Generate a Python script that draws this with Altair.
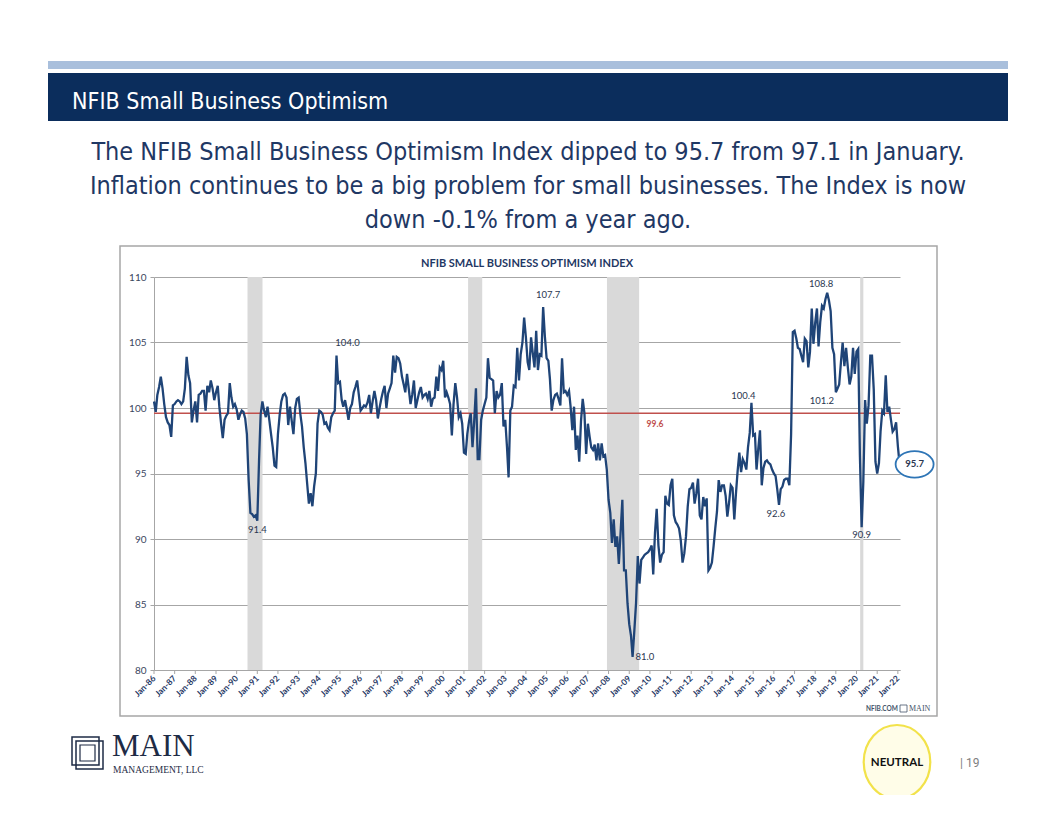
import altair as alt
import pandas as pd

# ---------------- data (monthly Jan-1986 .. Feb-2022) ----------------
v1986 = [100.5, 99.7, 101.0, 101.6, 102.4, 101.5, 100.3, 99.3, 98.9, 98.7, 97.8, 100.2]
v1987 = [100.3, 100.5, 100.6, 100.5, 100.3, 100.5, 101.5, 103.9, 102.5, 101.9, 98.9, 99.8]
v1988 = [100.5, 98.9, 101.0, 101.1, 101.3, 101.3, 99.8, 101.7, 101.2, 102.1, 101.5, 100.6]
v1989 = [101.2, 101.7, 100.1, 98.8, 97.7, 99.1, 99.4, 99.6, 101.9, 100.8, 100.1, 100.3]
v1990 = [99.9, 99.1, 99.5, 99.8, 99.7, 99.2, 98.0, 94.5, 92.0, 91.9, 91.7, 91.8]
v1991 = [91.4, 96.0, 99.5, 100.5, 99.8, 99.3, 100.1, 99.1, 98.0, 97.0, 95.6, 95.5]
v1992 = [98.0, 99.5, 100.5, 101.0, 101.1, 100.8, 98.7, 100.1, 99.0, 98.0, 100.0, 100.7]
v1993 = [100.8, 99.5, 98.6, 97.0, 95.8, 94.2, 92.7, 93.5, 92.5, 94.0, 95.0, 98.8]
v1994 = [99.8, 99.7, 99.5, 98.8, 98.9, 98.5, 98.3, 99.3, 99.6, 99.8, 104.0, 101.9]
v1995 = [102.0, 100.6, 100.1, 100.6, 99.9, 99.1, 100.0, 100.3, 101.2, 101.6, 102.1, 101.0]
v1996 = [99.8, 100.0, 100.2, 100.1, 100.4, 101.0, 99.6, 100.5, 101.3, 100.6, 99.2, 100.0]
v1997 = [100.7, 101.3, 101.7, 100.0, 101.1, 101.5, 101.9, 104.0, 102.7, 103.9, 103.8, 103.4]
v1998 = [102.4, 101.8, 101.2, 102.6, 101.5, 100.3, 101.0, 102.1, 100.0, 100.6, 101.2, 101.6]
v1999 = [100.8, 101.0, 101.1, 100.7, 101.3, 100.1, 100.7, 100.8, 102.4, 101.3, 103.1, 102.9]
v2000 = [103.6, 100.8, 101.2, 100.8, 100.3, 97.9, 100.3, 101.9, 100.8, 99.3, 99.6, 98.8]
v2001 = [96.6, 96.5, 98.0, 99.0, 99.6, 97.0, 99.0, 101.5, 96.1, 96.1, 99.1, 99.8]
v2002 = [100.3, 100.8, 103.8, 102.3, 102.2, 102.1, 99.6, 101.3, 100.8, 101.0, 101.9, 98.6]
v2003 = [99.1, 97.0, 94.7, 99.8, 100.1, 101.7, 101.6, 104.6, 102.1, 104.1, 105.0, 106.9]
v2004 = [105.4, 103.5, 102.9, 105.4, 104.2, 103.1, 105.9, 102.9, 104.1, 104.0, 107.7, 105.5]
v2005 = [103.8, 103.6, 102.2, 99.8, 100.6, 101.0, 101.1, 100.7, 100.2, 103.8, 101.2, 101.3]
v2006 = [101.0, 101.3, 100.1, 98.3, 100.1, 96.8, 97.9, 95.9, 99.0, 100.7, 99.6, 96.5]
v2007 = [98.8, 97.8, 97.0, 96.8, 97.2, 96.0, 97.3, 96.0, 97.3, 96.3, 96.4, 95.3]
v2008 = [93.0, 92.0, 89.7, 91.5, 89.4, 90.2, 88.1, 90.5, 93.0, 87.6, 87.6, 85.1]
v2009 = [83.5, 82.6, 81.0, 83.0, 85.1, 88.7, 86.6, 88.4, 88.6, 88.8, 88.9, 89.0]
v2010 = [89.2, 89.5, 87.3, 90.5, 92.3, 89.5, 88.2, 88.8, 89.0, 93.3, 92.7, 92.6]
v2011 = [94.1, 94.6, 91.8, 91.3, 91.1, 90.8, 89.9, 88.2, 88.9, 90.2, 92.5, 93.8]
v2012 = [93.9, 94.3, 92.7, 93.5, 94.6, 91.8, 91.5, 93.2, 92.5, 93.1, 87.6, 87.8]
v2013 = [88.2, 89.5, 90.8, 92.1, 94.5, 93.6, 94.1, 94.1, 93.3, 91.7, 92.8, 94.1]
v2014 = [93.9, 91.5, 93.4, 95.2, 96.6, 95.1, 96.1, 95.8, 95.3, 97.0, 98.1, 100.4]
v2015 = [97.9, 98.0, 95.3, 96.9, 98.3, 94.1, 95.4, 95.9, 96.0, 95.8, 95.7, 95.3]
v2016 = [95.0, 94.8, 93.8, 92.6, 93.8, 94.0, 94.5, 94.6, 94.6, 94.1, 98.0, 105.8]
v2017 = [105.9, 105.3, 104.6, 104.5, 104.0, 103.5, 105.3, 105.1, 103.1, 104.3, 107.6, 104.9]
v2018 = [106.5, 107.6, 104.7, 106.6, 107.8, 107.6, 108.3, 108.8, 108.2, 107.4, 104.6, 104.1]
v2019 = [101.2, 101.5, 101.8, 103.5, 105.0, 103.2, 104.6, 103.1, 101.8, 102.4, 104.6, 102.6]
v2020 = [104.3, 104.5, 96.4, 90.9, 94.4, 100.6, 98.8, 100.2, 104.0, 104.0, 101.4, 95.9]
v2021 = [95.0, 95.8, 98.2, 99.8, 99.6, 102.5, 99.7, 100.1, 99.1, 98.2, 98.4, 98.9]
v2022 = [97.1, 95.7]

all_years = [v1986, v1987, v1988, v1989, v1990, v1991, v1992, v1993, v1994, v1995,
             v1996, v1997, v1998, v1999, v2000, v2001, v2002, v2003, v2004, v2005,
             v2006, v2007, v2008, v2009, v2010, v2011, v2012, v2013, v2014, v2015,
             v2016, v2017, v2018, v2019, v2020, v2021, v2022]
values = [v for yr in all_years for v in yr]
dates = pd.date_range("1986-01-01", periods=len(values), freq="MS")

# x tick labels (every January)
tick_years = list(range(1986, 2023))
tick_labels = ["Jan-%02d" % (y % 100) for y in tick_years]

# recession shading
rec_start = ["1990-07-12", "2001-03-15", "2007-12-04", "2020-03-06"]
rec_end = ["1991-04-03", "2001-11-20", "2009-06-25", "2020-05-01"]

# average line
avg_value = 99.6

# value annotations
ann_dates = ["1991-01-01", "1994-11-01", "2004-11-01", "2009-03-01", "2014-12-01",
             "2016-04-01", "2018-08-01", "2019-01-01", "2020-04-01"]
ann_values = [91.4, 104.0, 107.7, 81.0, 100.4, 92.6, 108.8, 101.2, 90.9]
ann_text = ["91.4", "104.0", "107.7", "81.0", "100.4", "92.6", "108.8", "101.2", "90.9"]
ann_dx = [0, 11, 5, 13, -8, -3, -6, -14, 0]
ann_dy = [9, -13, -12, 0, -7, 9, -9, 9, 8]

last_date = "2022-02-01"
last_label = "95.7"

df = pd.DataFrame({"date": dates, "value": values})
ticks_df = pd.DataFrame({"date": pd.to_datetime(["%d-01-01" % y for y in tick_years]),
                         "label": tick_labels})
rec = pd.DataFrame({"start": pd.to_datetime(rec_start), "end": pd.to_datetime(rec_end)})
ann = pd.DataFrame({"date": pd.to_datetime(ann_dates), "value": ann_values, "label": ann_text,
                    "dx": ann_dx, "dy": ann_dy})

# ---------------- layout ----------------
PAD_L, PAD_T = 146, 269
W, H = 746, 393
OX, OY = 8 + PAD_L, 8 + PAD_T  # page position of plot origin
one = pd.DataFrame({"k": [0]})

NAVY = "#1f3864"
LINE = "#1f4477"
AXIS_GRAY = "#a6a6a6"
CHART_FONT = "Lato"
SLIDE_FONT = "DejaVu Sans Condensed, Roboto, sans-serif"

xscale = alt.Scale(domain=[alt.DateTime(year=1986, month=1, date=1),
                           alt.DateTime(year=2022, month=2, date=8)])
yscale = alt.Scale(domain=[80, 110], nice=False, zero=False)

x_axis = alt.Axis(labels=False, ticks=False, grid=False, domainColor=AXIS_GRAY, title="")
y_axis = alt.Axis(values=[80, 85, 90, 95, 100, 105, 110], grid=True, gridColor=AXIS_GRAY,
                  gridWidth=1, domainColor=AXIS_GRAY, tickColor=AXIS_GRAY, tickSize=4,
                  labelFontSize=10, labelFont=CHART_FONT, labelColor="#3a4660",
                  labelPadding=4, title="")

ybase = alt.Chart(df).mark_line(opacity=0).encode(
    x=alt.X("date:T", scale=xscale, axis=x_axis),
    y=alt.Y("value:Q", scale=yscale, axis=y_axis),
)

# x ticks + labels at every January
xticks = alt.Chart(ticks_df).mark_rule(color=AXIS_GRAY, strokeWidth=1).encode(
    x="date:T", y=alt.value(H), y2=alt.value(H + 4))
xlabels = alt.Chart(ticks_df).mark_text(angle=315, align="right", baseline="middle",
                                        fontSize=8.5, font=CHART_FONT, fontWeight="bold",
                                        color=NAVY).encode(
    x="date:T", y=alt.value(H + 7), text="label:N")

bars = alt.Chart(rec).mark_rect(color="#d9d9d9").encode(
    x=alt.X("start:T"),
    x2="end:T",
    y=alt.value(0),
    y2=alt.value(H),
)

avg = alt.Chart(one).mark_rule(color="#c0504d", strokeWidth=1.5).encode(
    y=alt.datum(avg_value)
)
avg_lbl = alt.Chart(one).mark_text(color="#c0504d", fontSize=8.5, fontWeight="bold",
                                   font=CHART_FONT, dy=11).encode(
    x=alt.datum(alt.DateTime(year=2010, month=4, date=1)),
    y=alt.datum(avg_value),
    text=alt.value("99.6"),
)

line = alt.Chart(df).mark_line(color=LINE, strokeWidth=2.3).encode(
    x=alt.X("date:T"),
    y=alt.Y("value:Q"),
)

ann_layers = []
for i in range(len(ann)):
    sub = ann.iloc[[i]]
    align = "left" if ann_text[i] == "81.0" else "center"
    ann_layers.append(
        alt.Chart(sub).mark_text(fontSize=9.5, font=CHART_FONT, color="#2a3650",
                                 dx=int(sub["dx"].iloc[0]) if align == "center" else 3,
                                 dy=int(sub["dy"].iloc[0]), align=align,
                                 baseline="middle").encode(
            x="date:T", y="value:Q", text="label:N")
    )

last_df = pd.DataFrame({"date": pd.to_datetime([last_date]), "value": [values[-1]],
                        "label": [last_label]})
ellipse = "M -1 0 A 1 0.7 0 1 1 1 0 A 1 0.7 0 1 1 -1 0 Z"
last_ring = alt.Chart(last_df).mark_point(shape=ellipse, size=38 * 38, filled=True,
                                          fill="white", stroke="#2e75b6", strokeWidth=1.8,
                                          opacity=1, xOffset=15).encode(
    x="date:T", y="value:Q")
last_txt = alt.Chart(last_df).mark_text(fontSize=9.5, font=CHART_FONT, fontWeight="bold",
                                        color="#2a3650", dx=15).encode(
    x="date:T", y="value:Q", text="label:N")


def rect(x1, y1, x2, y2, **kw):
    return alt.Chart(one).mark_rect(**kw).encode(
        x=alt.value(x1 - OX), x2=alt.value(x2 - OX),
        y=alt.value(y1 - OY), y2=alt.value(y2 - OY))


def text(x, y, s, **kw):
    return alt.Chart(one).mark_text(**kw).encode(
        x=alt.value(x - OX), y=alt.value(y - OY), text=alt.value(s))


deco_back = [
    rect(120, 246, 937, 716, fill="none", stroke=AXIS_GRAY, strokeWidth=1.5),
]

deco_front = [
    # slide header
    rect(48, 61, 1008, 69, color="#a9bfdc"),
    rect(48, 73, 1008, 121, color="#0b2d5c"),
    text(72, 102, "NFIB Small Business Optimism", align="left", baseline="middle",
         fontSize=23, font=SLIDE_FONT, color="white"),
    text(528, 152, "The NFIB Small Business Optimism Index dipped to 95.7 from 97.1 in January.",
         align="center", baseline="middle", fontSize=25, font=SLIDE_FONT, color=NAVY),
    text(528, 186, "Inflation continues to be a big problem for small businesses. The Index is now",
         align="center", baseline="middle", fontSize=25, font=SLIDE_FONT, color=NAVY),
    text(528, 220, "down -0.1% from a year ago.",
         align="center", baseline="middle", fontSize=25, font=SLIDE_FONT, color=NAVY),
    # chart title
    text(527, 264, "NFIB SMALL BUSINESS OPTIMISM INDEX", align="center", baseline="middle",
         fontSize=11, font=CHART_FONT, fontWeight="bold", color=NAVY),
    # chart source
    text(866, 709, "NFIB.COM", align="left", baseline="middle", fontSize=6.5,
         font=CHART_FONT, fontWeight="bold", color="#44546a"),
    rect(900, 705, 907, 712, fill="white", stroke="#44546a", strokeWidth=0.8),
    text(909, 709, "MAIN", align="left", baseline="middle", fontSize=8,
         font="Liberation Serif", color="#44546a"),
    # footer logo
    rect(72, 737, 99, 765, fill="none", stroke="#1e2b45", strokeWidth=1.5),
    rect(76, 741, 103, 769, fill="none", stroke="#1e2b45", strokeWidth=1.5),
    rect(80, 745, 95, 761, fill="none", stroke="#1e2b45", strokeWidth=1.2),
    text(112, 756, "MAIN", align="left", baseline="alphabetic", fontSize=31,
         font="Liberation Serif", color="#1e2b45"),
    text(113, 770, "MANAGEMENT, LLC", align="left", baseline="middle", fontSize=9.5,
         font="Liberation Serif", color="#1e2b45"),
    # neutral badge
    alt.Chart(one).mark_point(
        shape="M -0.9 0 A 0.9 1 0 1 1 0.9 0 A 0.9 1 0 1 1 -0.9 0 Z", size=74 * 74,
        filled=True, fill="#fffde8", stroke="#f2e24a", strokeWidth=2.2, opacity=1).encode(
        x=alt.value(897 - OX), y=alt.value(762 - OY)),
    text(897, 763, "NEUTRAL", align="center", baseline="middle", fontSize=11.5,
         font="Lato", fontWeight="bold", color="#111111"),
    text(960, 763, "|  19", align="left", baseline="middle", fontSize=12,
         font="Roboto", color="#7f7f7f"),
]

chart = alt.layer(
    ybase, *deco_back, bars, avg, avg_lbl, line, xticks, xlabels, *ann_layers,
    last_ring, last_txt, *deco_front
).properties(
    width=W, height=H,
    padding={"left": PAD_L, "top": PAD_T, "right": 140, "bottom": 125},
    autosize=alt.AutoSizeParams(type="none"),
    background="white",
).configure_view(stroke=None)

chart.save("out.html", embed_options={"renderer": "svg", "actions": False})
